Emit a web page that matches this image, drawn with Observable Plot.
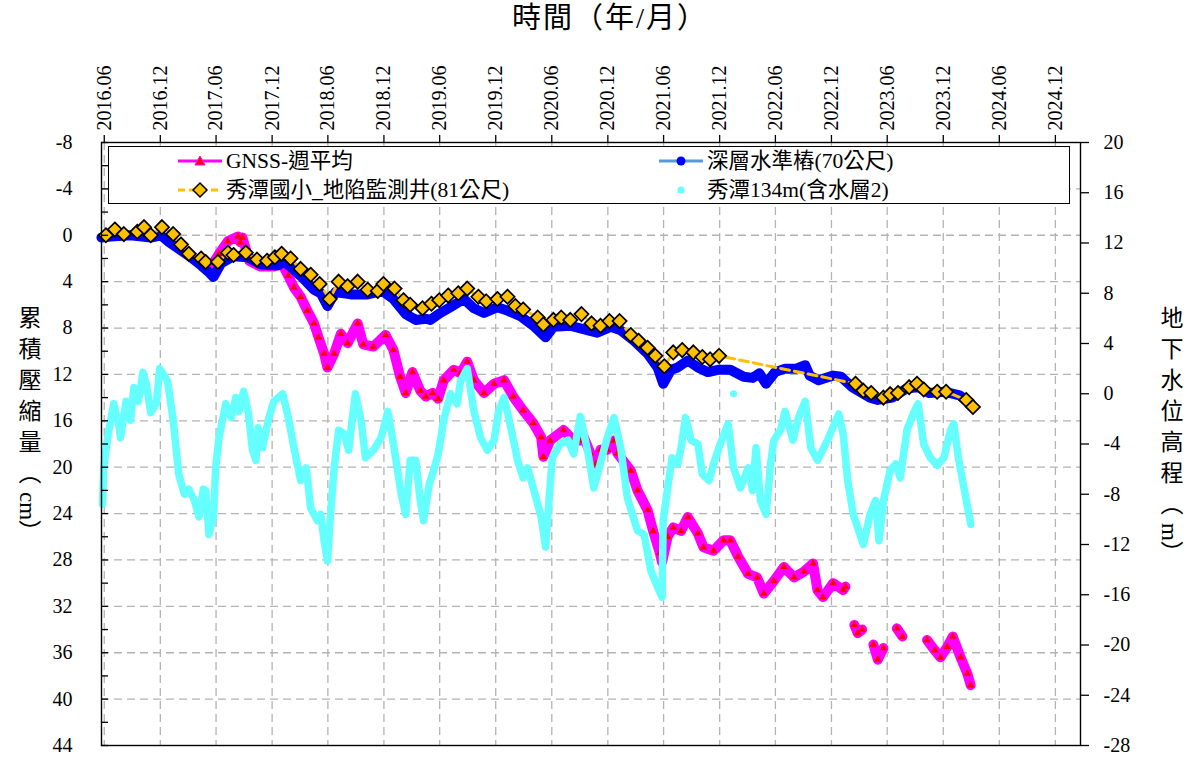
<!DOCTYPE html>
<html><head><meta charset="utf-8">
<script src="https://cdn.jsdelivr.net/npm/d3@7"></script>
<script src="https://cdn.jsdelivr.net/npm/@observablehq/plot@0.6"></script>
<style>
body{margin:0;background:#fff;}
#wrap{position:relative;width:1194px;height:760px;font-family:'Liberation Serif','Times New Roman','Noto Sans CJK TC',serif;color:#000;}
#wrap > svg{position:absolute;left:0;top:0;}
.title{position:absolute;font-size:29px;letter-spacing:2px;white-space:nowrap;line-height:1;}
.vtitle{position:absolute;writing-mode:vertical-rl;text-orientation:mixed;font-size:23px;letter-spacing:8px;white-space:nowrap;line-height:1;}
.vtitle .lat{letter-spacing:0;}
#legend{position:absolute;left:108px;top:146px;width:962px;height:58px;border:1.5px solid #000;background:#fff;box-sizing:border-box;}
.li{position:absolute;display:flex;align-items:center;font-size:21.5px;line-height:24px;white-space:nowrap;}
#wrap .li svg{position:static;margin-right:3px;flex:none;}
</style></head><body><div id="wrap"></div>
<script>
// ---- data (decimal year, value) ----
// GNSS weekly mean, cumulative compaction (cm); null = no data
const gnss = [[2017.35,3.0],[2017.44,1.6],[2017.52,0.5],[2017.61,0.1],[2017.63,0.6],[2017.65,0.2],[2017.71,2.2],[2017.81,2.7],[2017.93,2.7],[2017.99,2.2],[2018.06,3.5],[2018.11,4.5],[2018.17,5.3],[2018.23,6.5],[2018.29,7.6],[2018.33,8.8],[2018.38,10.2],[2018.41,11.4],[2018.47,10.2],[2018.53,8.5],[2018.59,9.3],[2018.68,7.6],[2018.73,9.4],[2018.82,9.6],[2018.93,8.6],[2019.00,9.9],[2019.06,12.2],[2019.11,13.6],[2019.17,11.8],[2019.24,13.4],[2019.29,13.9],[2019.35,13.6],[2019.40,14.1],[2019.45,12.5],[2019.54,11.6],[2019.60,11.9],[2019.66,10.9],[2019.72,12.5],[2019.81,13.6],[2019.90,12.8],[2019.99,12.5],[2020.07,13.9],[2020.16,15.1],[2020.25,16.2],[2020.32,17.4],[2020.34,19.1],[2020.40,17.7],[2020.52,16.8],[2020.61,17.7],[2020.67,17.7],[2020.70,17.4],[2020.76,18.8],[2020.81,19.7],[2020.85,18.5],[2020.91,18.5],[2020.97,17.7],[2021.00,18.8],[2021.12,20.3],[2021.18,22.0],[2021.27,23.7],[2021.32,25.5],[2021.38,27.4],[2021.40,28.2],[2021.45,26.0],[2021.50,25.2],[2021.57,25.5],[2021.63,24.3],[2021.72,25.7],[2021.77,26.9],[2021.86,27.2],[2021.95,26.3],[2022.01,26.3],[2022.08,27.7],[2022.17,29.2],[2022.25,29.5],[2022.31,30.9],[2022.40,29.8],[2022.49,28.6],[2022.58,29.5],[2022.67,29.0],[2022.75,28.3],[2022.79,30.6],[2022.84,31.2],[2022.93,30.0],[2023.02,30.6],[2023.04,30.3],[2023.08,null],[2023.12,33.6],[2023.15,34.3],[2023.19,34.0],[2023.24,null],[2023.29,35.3],[2023.33,36.6],[2023.38,35.6],[2023.44,null],[2023.50,33.9],[2023.55,34.6],[2023.65,null],[2023.77,34.9],[2023.84,35.8],[2023.89,36.4],[2023.95,35.5],[2024.00,34.6],[2024.07,36.4],[2024.13,37.8],[2024.16,38.8]];
// deep benchmark (70 m), cm
const deepBench = [[2016.39,0.2],[2016.47,0.1],[2016.65,0.0],[2016.83,0.2],[2016.92,0.0],[2016.98,0.5],[2017.10,1.3],[2017.19,1.9],[2017.28,2.6],[2017.35,3.2],[2017.39,3.6],[2017.46,2.4],[2017.57,1.8],[2017.70,1.9],[2017.81,2.5],[2017.97,2.6],[2018.02,2.2],[2018.11,3.0],[2018.17,3.5],[2018.29,4.7],[2018.35,5.0],[2018.41,6.1],[2018.48,4.9],[2018.62,5.1],[2018.77,5.1],[2018.90,4.8],[2019.00,5.5],[2019.11,6.8],[2019.20,7.3],[2019.29,7.2],[2019.33,7.3],[2019.42,6.7],[2019.51,6.2],[2019.63,5.5],[2019.72,6.3],[2019.81,6.7],[2019.93,6.2],[2020.02,6.5],[2020.14,7.0],[2020.25,7.8],[2020.36,8.8],[2020.43,7.9],[2020.58,7.8],[2020.74,8.2],[2020.82,8.4],[2020.94,7.9],[2021.03,8.2],[2021.15,9.1],[2021.27,10.2],[2021.36,11.4],[2021.41,12.8],[2021.48,11.6],[2021.54,11.4],[2021.63,10.8],[2021.72,11.4],[2021.81,11.8],[2021.90,11.6],[2022.01,11.6],[2022.13,12.2],[2022.21,12.3],[2022.27,11.9],[2022.33,12.8],[2022.41,11.8],[2022.50,11.5],[2022.60,11.5],[2022.68,11.2],[2022.72,12.1],[2022.80,12.5],[2022.93,12.1],[2023.00,12.2],[2023.10,13.1],[2023.26,14.0],[2023.33,14.2],[2023.46,14.0],[2023.59,13.2],[2023.69,13.1],[2023.79,13.6],[2023.93,13.5],[2024.06,13.8],[2024.16,14.5]];
// Xiutan elementary school subsidence monitoring well (81 m), cm
const well81 = [[2016.43,0.0],[2016.51,-0.5],[2016.59,-0.1],[2016.71,-0.3],[2016.77,-0.7],[2016.83,0.0],[2016.93,-0.7],[2017.03,-0.1],[2017.10,0.8],[2017.17,1.6],[2017.28,2.0],[2017.32,2.3],[2017.43,2.3],[2017.52,1.5],[2017.57,1.7],[2017.68,1.5],[2017.78,2.1],[2017.87,2.2],[2017.94,1.9],[2018.00,1.6],[2018.08,2.0],[2018.17,2.9],[2018.26,3.4],[2018.34,4.2],[2018.43,5.5],[2018.51,4.0],[2018.59,4.4],[2018.68,4.0],[2018.77,4.7],[2018.86,4.8],[2018.91,4.2],[2019.01,4.6],[2019.09,5.6],[2019.15,6.0],[2019.26,6.3],[2019.34,5.9],[2019.41,5.6],[2019.49,5.2],[2019.58,5.0],[2019.66,4.6],[2019.76,5.3],[2019.83,5.7],[2019.93,5.5],[2020.02,5.3],[2020.09,6.1],[2020.16,6.4],[2020.29,7.1],[2020.34,7.7],[2020.43,7.3],[2020.50,7.1],[2020.58,7.3],[2020.68,6.8],[2020.77,7.6],[2020.85,7.8],[2020.93,7.4],[2021.02,7.4],[2021.12,8.6],[2021.19,9.1],[2021.27,9.7],[2021.34,10.4],[2021.42,11.3],[2021.50,10.1],[2021.58,9.9],[2021.68,10.1],[2021.76,10.5],[2021.83,10.7],[2021.91,10.4],[2023.13,12.8],[2023.20,13.4],[2023.27,13.6],[2023.38,14.0],[2023.44,13.7],[2023.51,13.6],[2023.61,13.1],[2023.68,12.8],[2023.74,13.3],[2023.86,13.5],[2023.94,13.5],[2024.12,14.2],[2024.18,14.8]];
// Xiutan 134 m groundwater level (aquifer 2), m
const well134 = [[2016.40,-8.8],[2016.41,-5.9],[2016.45,-3.2],[2016.50,-0.8],[2016.55,-2.7],[2016.56,-3.5],[2016.61,-0.6],[2016.65,-2.1],[2016.68,0.5],[2016.72,-0.6],[2016.76,1.7],[2016.79,0.8],[2016.83,-1.5],[2016.88,-0.8],[2016.91,2.0],[2016.98,1.0],[2017.03,-2.1],[2017.08,-6.4],[2017.13,-8.0],[2017.17,-7.6],[2017.22,-8.5],[2017.26,-9.8],[2017.30,-7.6],[2017.32,-7.7],[2017.35,-11.2],[2017.39,-9.8],[2017.41,-5.9],[2017.44,-3.5],[2017.50,-0.8],[2017.55,-1.9],[2017.59,-0.3],[2017.62,-1.4],[2017.66,0.2],[2017.70,-1.4],[2017.74,-4.5],[2017.77,-5.3],[2017.79,-2.7],[2017.83,-4.3],[2017.88,-2.1],[2017.93,-0.6],[2018.01,0.0],[2018.06,-1.9],[2018.11,-4.3],[2018.17,-6.9],[2018.22,-5.9],[2018.26,-9.1],[2018.32,-10.1],[2018.35,-9.6],[2018.38,-11.7],[2018.41,-13.3],[2018.44,-9.3],[2018.47,-5.9],[2018.51,-2.9],[2018.56,-3.2],[2018.60,-4.5],[2018.64,-1.4],[2018.66,0.0],[2018.71,-2.1],[2018.75,-5.1],[2018.82,-4.5],[2018.89,-3.5],[2018.95,-1.4],[2019.00,-4.0],[2019.07,-8.0],[2019.11,-9.6],[2019.15,-5.3],[2019.20,-5.3],[2019.24,-8.5],[2019.27,-10.1],[2019.32,-7.2],[2019.36,-6.1],[2019.40,-4.8],[2019.45,-2.1],[2019.51,0.0],[2019.57,-0.8],[2019.60,1.0],[2019.66,2.0],[2019.72,-1.4],[2019.78,-3.5],[2019.84,-4.5],[2019.90,-3.7],[2019.94,-1.4],[2019.99,-0.3],[2020.05,-2.7],[2020.11,-5.3],[2020.16,-6.7],[2020.20,-5.9],[2020.25,-7.5],[2020.32,-9.8],[2020.36,-12.2],[2020.39,-8.5],[2020.42,-5.1],[2020.49,-4.0],[2020.56,-3.7],[2020.61,-4.8],[2020.67,-1.8],[2020.74,-4.8],[2020.79,-7.5],[2020.85,-5.5],[2020.91,-3.5],[2020.97,-1.9],[2021.03,-4.3],[2021.09,-8.3],[2021.18,-10.9],[2021.24,-11.2],[2021.30,-14.1],[2021.36,-15.4],[2021.40,-16.2],[2021.41,-10.1],[2021.45,-7.5],[2021.49,-5.1],[2021.54,-5.6],[2021.57,-4.3],[2021.61,-1.9],[2021.66,-3.7],[2021.72,-4.0],[2021.76,-6.4],[2021.82,-6.9],[2021.86,-5.6],[2021.92,-4.0],[2021.99,-2.4],[2022.04,-5.9],[2022.10,-7.5],[2022.17,-5.9],[2022.21,-7.7],[2022.24,-4.3],[2022.28,-8.5],[2022.33,-9.6],[2022.37,-5.6],[2022.40,-3.7],[2022.46,-2.9],[2022.50,-1.4],[2022.57,-3.7],[2022.62,-1.9],[2022.68,-0.6],[2022.73,-4.3],[2022.79,-5.3],[2022.88,-3.7],[2022.98,-1.6],[2023.02,-3.2],[2023.06,-6.9],[2023.11,-9.6],[2023.20,-12.0],[2023.26,-9.6],[2023.31,-8.5],[2023.34,-11.7],[2023.38,-8.5],[2023.44,-6.1],[2023.49,-5.6],[2023.53,-6.7],[2023.59,-2.9],[2023.65,-1.5],[2023.69,-0.8],[2023.74,-4.0],[2023.80,-5.1],[2023.86,-5.7],[2023.92,-5.1],[2023.98,-2.9],[2024.01,-2.4],[2024.05,-5.1],[2024.10,-7.5],[2024.16,-10.4]];
const well134Stray = [[2022.04,0.0]];
// axis ticks
const xTickLabels = ["2016.06","2016.12","2017.06","2017.12","2018.06","2018.12","2019.06","2019.12","2020.06","2020.12","2021.06","2021.12","2022.06","2022.12","2023.06","2023.12","2024.06","2024.12"];
const leftTicks = [-8,-4,0,4,8,12,16,20,24,28,32,36,40,44];
const rightTicks = [20,16,12,8,4,0,-4,-8,-12,-16,-20,-24,-28];
const legendNames = ["GNSS-週平均","深層水準樁(70公尺)","秀潭國小_地陷監測井(81公尺)","秀潭134m(含水層2)"];

// ---- helpers ----
const toDate = t => { const y = Math.floor(t); const a = Date.UTC(y,0,1), b = Date.UTC(y+1,0,1); return new Date(a + (t - y) * (b - a)); };
const tickDate = s => new Date(Date.UTC(+s.slice(0,4), +s.slice(5,7) - 1, 1));
// secondary axis (m) -> primary axis (cm) coordinates: 20 m <-> -8 cm, -28 m <-> 44 cm
const R2L = m => -8 + (20 - m) * 52 / 48;
const L2R = v => String(Math.round(20 - (v + 8) * 48 / 52));
const rows = arr => arr.map(([t, v]) => ({date: toDate(t), v}));

const gData = rows(gnss), bData = rows(deepBench), wData = rows(well81);
const cData = rows(well134).map(d => ({date: d.date, v: R2L(d.v)}));
const cStray = rows(well134Stray).map(d => ({date: d.date, v: R2L(d.v)}));
const xTicks = xTickLabels.map(tickDate);
const minorLeft = d3.range(-8, 45, 2);
const fmt = d3.utcFormat("%Y.%m");
const gridStyle = {stroke: "#b4b4b4", strokeOpacity: 1, strokeWidth: 1.3, strokeDasharray: "8,5"};

const chart = Plot.plot({
  width: 1194, height: 760,
  marginTop: 142, marginBottom: 15, marginLeft: 101, marginRight: 114,
  style: {fontFamily: "'Liberation Serif','Times New Roman','Noto Sans CJK TC',serif", fontSize: "20px", color: "#000", background: "transparent", overflow: "visible"},
  x: {type: "utc", domain: [new Date(Date.UTC(2016,4,23)), new Date(Date.UTC(2025,1,21))]},
  y: {domain: [44, -8]},
  marks: [
    Plot.gridX(xTicks, gridStyle),
    Plot.gridY(leftTicks.filter(v => v > -8 && v < 44), gridStyle),
    // GNSS
    Plot.line(gData, {x: "date", y: "v", stroke: "#ff00ff", strokeWidth: 10, strokeLinejoin: "round", strokeLinecap: "round"}),
    Plot.dot(gData.filter(d => d.v != null), {x: "date", y: "v", symbol: "triangle", r: 2.8, fill: "#ff0000"}),
    // deep benchmark
    Plot.line(bData, {x: "date", y: "v", stroke: "#0000ff", strokeWidth: 10, strokeLinejoin: "round", strokeLinecap: "round"}),
    // well 81 m
    Plot.line(wData, {x: "date", y: "v", stroke: "#ffc000", strokeWidth: 3, strokeDasharray: "9,5"}),
    Plot.dot(wData, {x: "date", y: "v", symbol: "diamond2", r: 6.4, fill: "#ffc000", stroke: "#000", strokeWidth: 1.7}),
    // well 134 m (secondary axis)
    Plot.line(cData, {x: "date", y: "v", stroke: "#66ffff", strokeWidth: 7.5, strokeLinejoin: "round", strokeLinecap: "round"}),
    Plot.dot(cStray, {x: "date", y: "v", r: 3.6, fill: "#66ffff"}),
    Plot.frame({stroke: "#000", strokeWidth: 1.4}),
    Plot.axisX(xTicks, {anchor: "top", tickFormat: fmt, tickRotate: -90, tickSize: 8, tickPadding: 4, label: null, strokeWidth: 1.3}),
    Plot.axisY(leftTicks, {anchor: "left", tickSize: 0, tickPadding: 29, tickFormat: d => String(d), label: null}),
    Plot.axisY(minorLeft, {anchor: "left", tickSize: 7, dx: 7, fill: "none", label: null, strokeWidth: 1.3}),
    Plot.axisY(rightTicks.map(R2L), {anchor: "right", tickSize: 8, tickPadding: 15, tickFormat: L2R, label: null, strokeWidth: 1.3})
  ]
});

const wrap = document.getElementById("wrap");
wrap.appendChild(chart);

// titles
const t1 = document.createElement("div"); t1.className = "title"; t1.textContent = "時間（年/月）";
t1.style.left = "512px"; t1.style.top = "4px"; wrap.appendChild(t1);
const t2 = document.createElement("div"); t2.className = "vtitle"; t2.innerHTML = "累積壓縮量（<span class='lat'>cm</span>）";
t2.style.left = "16px"; t2.style.top = "306px"; wrap.appendChild(t2);
const t3 = document.createElement("div"); t3.className = "vtitle"; t3.innerHTML = "地下水位高程（<span class='lat'>m</span>）";
t3.style.left = "1158px"; t3.style.top = "306px"; wrap.appendChild(t3);

// legend
const lg = document.createElement("div"); lg.id = "legend"; wrap.appendChild(lg);
const sw = [
  `<svg width="46" height="16"><line x1="1" y1="8" x2="45" y2="8" stroke="#ff00ff" stroke-width="3"/><path d="M23,3 L28,12 L18,12 Z" fill="#ff0000" stroke="#ff00ff" stroke-width="1"/></svg>`,
  `<svg width="46" height="16"><line x1="1" y1="8" x2="45" y2="8" stroke="#5b9bd5" stroke-width="3"/><circle cx="23" cy="8" r="4.5" fill="#0000ff"/></svg>`,
  `<svg width="46" height="18"><line x1="1" y1="9" x2="45" y2="9" stroke="#ffc000" stroke-width="3" stroke-dasharray="7,4"/><path d="M23,2 L30,9 L23,16 L16,9 Z" fill="#ffc000" stroke="#000" stroke-width="1.5"/></svg>`,
  `<svg width="46" height="16"><circle cx="23" cy="8" r="3.5" fill="#66ffff"/></svg>`
];
const pos = [[68, 2], [549, 2], [68, 31], [549, 31]];
legendNames.forEach((n, i) => {
  const d = document.createElement("div"); d.className = "li";
  d.style.left = pos[i][0] + "px"; d.style.top = pos[i][1] + "px";
  d.innerHTML = sw[i] + `<span>${n}</span>`;
  lg.appendChild(d);
});
</script></body></html>
